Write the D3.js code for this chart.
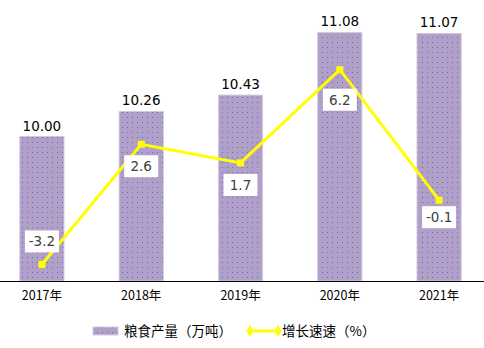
<!DOCTYPE html>
<html><head><meta charset="utf-8">
<script src="https://cdn.jsdelivr.net/npm/d3@7"></script>
<style>
body{margin:0;background:#fff;}
svg{display:block;font-family:"Noto Sans CJK SC","DejaVu Sans",sans-serif;}
</style></head>
<body><svg id="c" width="484" height="348"></svg>
<script>
const categories = ["2017年","2018年","2019年","2020年","2021年"];
const output = [10.00, 10.26, 10.43, 11.08, 11.07];
const growth = [-3.2, 2.6, 1.7, 6.2, -0.1];
const barSeriesName = "粮食产量（万吨）";
const lineSeriesName = "增长速速（%）";

const svg = d3.select("#c");
const defs = svg.append("defs");
const pat = defs.append("pattern").attr("id","dots").attr("patternUnits","userSpaceOnUse")
  .attr("width",5).attr("height",5);
pat.append("rect").attr("width",5).attr("height",5).attr("fill","#B19FC8");
pat.append("rect").attr("x",2).attr("y",2).attr("width",1).attr("height",1).attr("fill","#4A78CC");

const x = d3.scaleBand().domain(categories).range([-8, 489]).paddingInner(0.555).paddingOuter(0.28);
const y = d3.scaleLinear().domain([8.5, 11.5]).range([281, -8]);
const y2 = d3.scaleLinear().domain([-4, 10]).range([281, -9]);

// bars
svg.selectAll("rect.bar").data(output).join("rect").attr("class","bar")
  .attr("x",(d,i)=>x(categories[i])).attr("width",x.bandwidth())
  .attr("y",d=>y(d)).attr("height",d=>y(y.domain()[0])-y(d))
  .attr("fill","url(#dots)").attr("stroke","#D3CAE0").attr("stroke-width",1);

svg.selectAll("text.bv").data(output).join("text").attr("class","bv")
  .attr("x",(d,i)=>x(categories[i])+x.bandwidth()/2).attr("y",d=>y(d)-6)
  .attr("text-anchor","middle").attr("font-size",13.5).attr("fill","#000")
  .attr("font-family","'DejaVu Sans',sans-serif")
  .text(d=>d.toFixed(2));

// axis
const ax = svg.append("g").attr("transform","translate(0,281)")
  .call(d3.axisBottom(x).tickSize(0).tickPadding(10));
ax.select(".domain").attr("stroke","#000").attr("stroke-width",1.2).attr("d","M0,0.5H484");
ax.selectAll("text").attr("font-size",12.5).attr("fill","#000")
  .attr("font-family","'Noto Sans CJK SC',sans-serif");

// line
const cx = (i)=>x(categories[i])+x.bandwidth()/2;
const line = d3.line().x((d,i)=>cx(i)).y(d=>y2(d));
svg.append("path").datum(growth).attr("d",line).attr("fill","none")
  .attr("stroke","#FFFF00").attr("stroke-width",3);
svg.selectAll("rect.mk").data(growth).join("rect").attr("class","mk")
  .attr("x",(d,i)=>cx(i)-3.5).attr("y",d=>y2(d)-3.5).attr("width",7).attr("height",7)
  .attr("fill","#FFFF00");

// line labels
const labelOffsets = [-23, 22, 22, 30, 17];
const lg = svg.selectAll("g.ll").data(growth).join("g").attr("class","ll")
  .attr("transform",(d,i)=>`translate(${cx(i)},${y2(d)+labelOffsets[i]})`);
lg.append("rect").attr("x",-17).attr("y",-11).attr("width",34).attr("height",22).attr("fill","#fff");
lg.append("text").attr("text-anchor","middle").attr("dy","0.36em").attr("font-size",13.5)
  .attr("fill","#404040").attr("font-family","'DejaVu Sans',sans-serif").text(d=>d.toFixed(1));

// legend
const leg = svg.append("g");
leg.append("rect").attr("x",93).attr("y",327).attr("width",25).attr("height",8)
  .attr("fill","url(#dots)").attr("stroke","#D3CAE0");
leg.append("text").attr("x",124).attr("y",331).attr("dy","0.36em").attr("font-size",13.5)
  .attr("fill","#000").text(barSeriesName);
leg.append("line").attr("x1",250).attr("x2",278).attr("y1",331).attr("y2",331)
  .attr("stroke","#FFFF00").attr("stroke-width",3);
[250,278].forEach(px=>leg.append("path").attr("d",d3.symbol(d3.symbolDiamond,40)())
  .attr("transform",`translate(${px},331)`).attr("fill","#FFFF00"));
leg.append("text").attr("x",282).attr("y",331).attr("dy","0.36em").attr("font-size",13.5)
  .attr("fill","#000").text(lineSeriesName);
</script></body></html>
